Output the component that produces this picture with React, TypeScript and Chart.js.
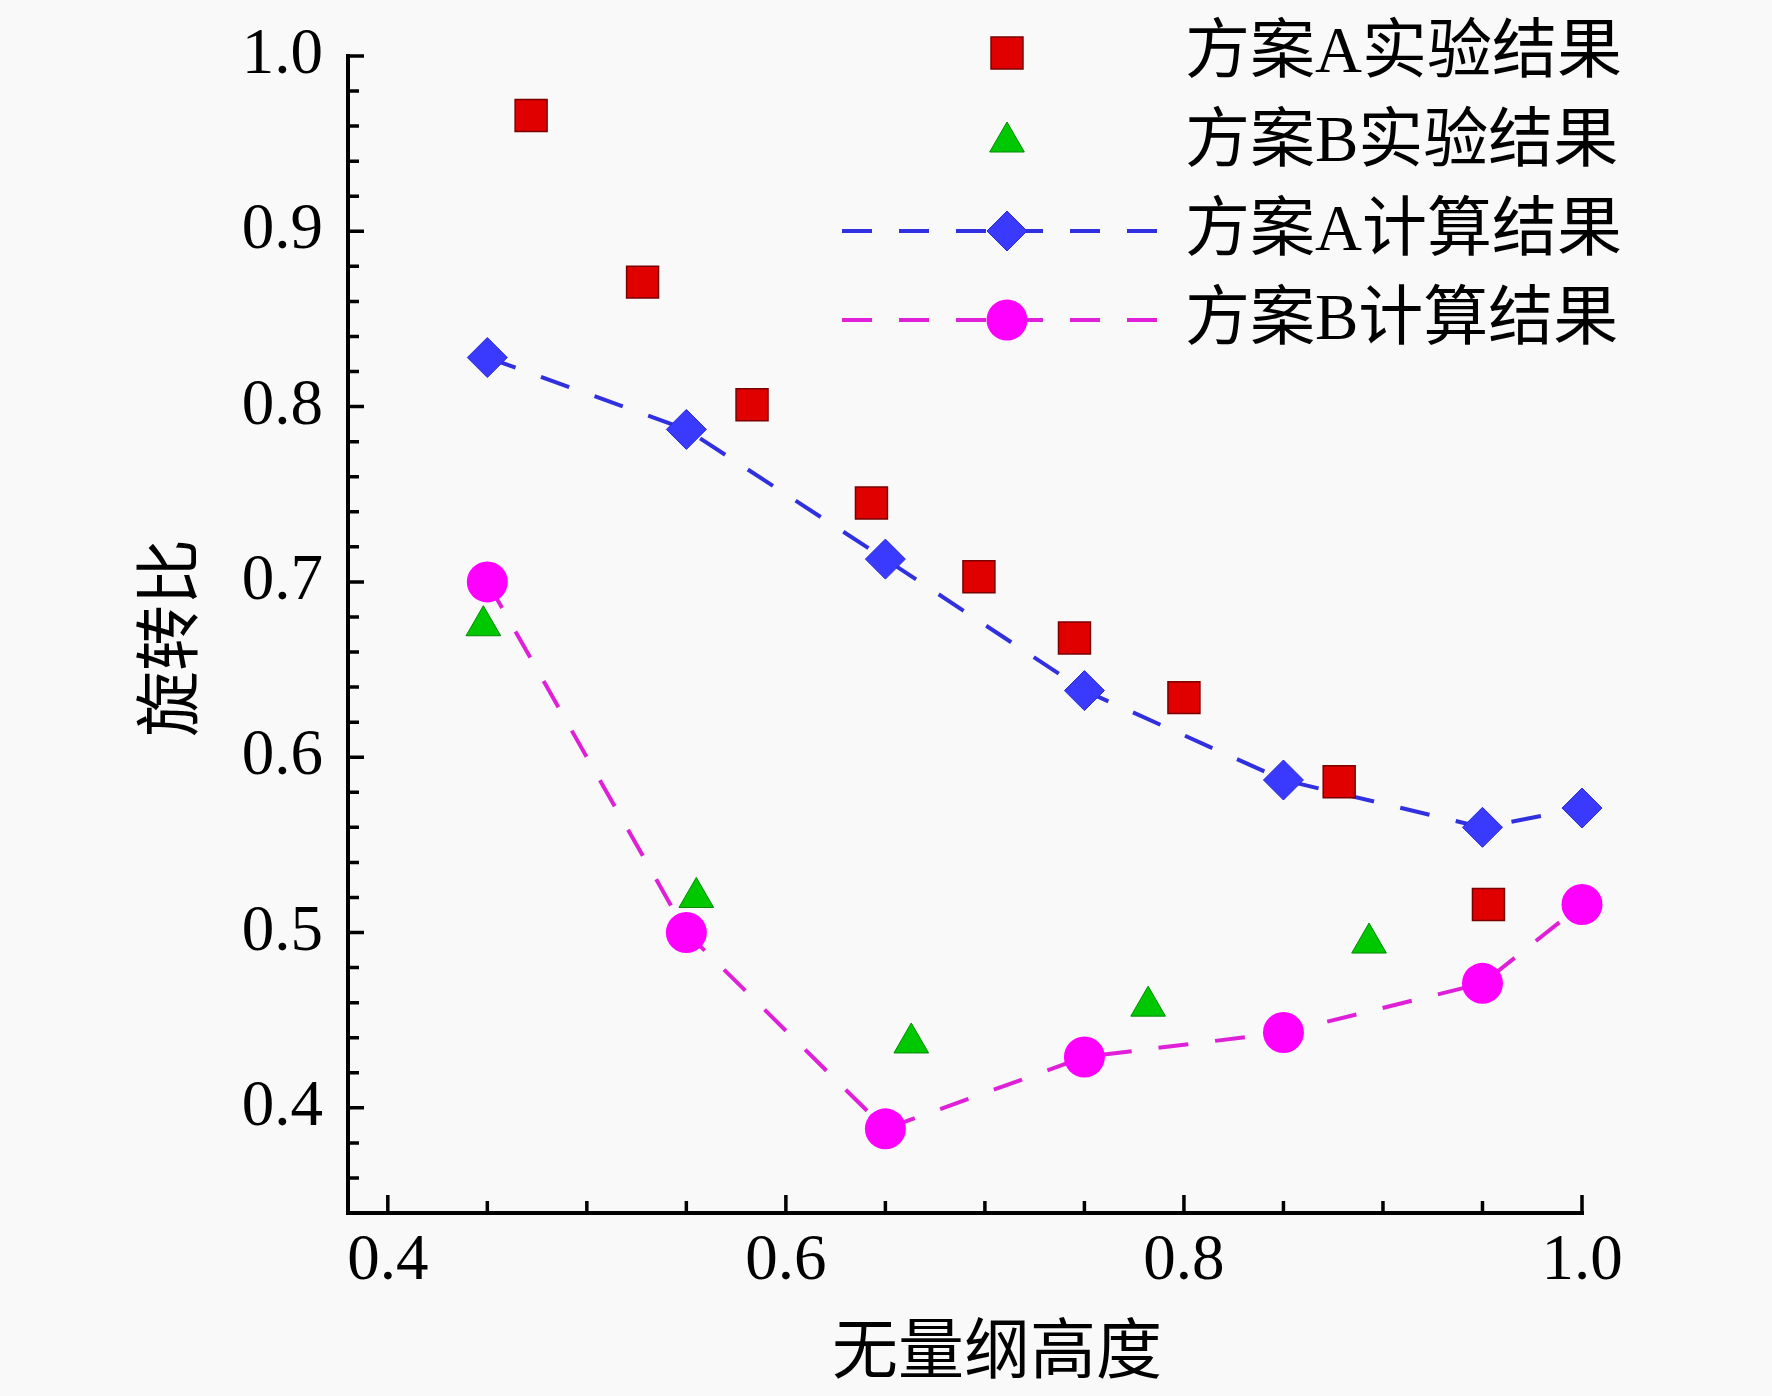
import React, { useEffect, useRef } from 'react';
import Chart from 'chart.js/auto';
import { drawPoint } from 'chart.js/helpers';

const seriesNames = ['方案A实验结果', '方案B实验结果', '方案A计算结果', '方案B计算结果'];

const expAx = [0.472, 0.528, 0.583, 0.643, 0.697, 0.745, 0.8, 0.878, 0.953];
const expAy = [0.966, 0.871, 0.801, 0.745, 0.703, 0.668, 0.634, 0.586, 0.516];
const expBx = [0.448, 0.555, 0.663, 0.782, 0.893];
const expBy = [0.675, 0.52, 0.437, 0.458, 0.494];

// 计算结果
const calcX = [0.45, 0.55, 0.65, 0.75, 0.85, 0.95, 1.0];
const calcAy = [0.828, 0.787, 0.713, 0.638, 0.587, 0.56, 0.571];
const calcBy = [0.7, 0.5, 0.388, 0.429, 0.443, 0.471, 0.516];

const xMajorTicks = [0.4, 0.6, 0.8, 1.0];
const xMinorTicks = [0.45, 0.5, 0.55, 0.65, 0.7, 0.75, 0.85, 0.9, 0.95];
const yMajorTicks = [0.4, 0.5, 0.6, 0.7, 0.8, 0.9, 1.0];
const yMinorTicks = [
  0.36, 0.38, 0.42, 0.44, 0.46, 0.48, 0.52, 0.54, 0.56, 0.58, 0.62, 0.64, 0.66,
  0.68, 0.72, 0.74, 0.76, 0.78, 0.82, 0.84, 0.86, 0.88, 0.92, 0.94, 0.96, 0.98,
];

const xTitle = '无量纲高度';
const yTitle = '旋转比';

const FONT = '"Liberation Serif", "Times New Roman", "Noto Sans CJK SC", serif';

const isMajor = (list: number[], v: number) => list.some((m) => Math.abs(m - v) < 1e-6);

const toPoints = (xs: number[], ys: number[]) => xs.map((x, i) => ({ x, y: ys[i] }));

// chart.js adds room for half of the edge labels; the plot box is pinned by hand instead
const noScalePadding = (scale: any) => {
  scale.paddingTop = 0;
  scale.paddingBottom = 0;
  scale.paddingLeft = 0;
  scale.paddingRight = 0;
};

const axesPlugin = {
  id: 'axesTitlesLegend',
  afterDraw(chart: any) {
    const { ctx, chartArea, scales } = chart;
    const { left, right, top, bottom } = chartArea;
    ctx.save();

    // axis lines
    ctx.strokeStyle = '#000';
    ctx.lineWidth = 4;
    ctx.beginPath();
    ctx.moveTo(left, top - 2);
    ctx.lineTo(left, bottom + 2);
    ctx.moveTo(left - 2, bottom);
    ctx.lineTo(right + 2, bottom);
    ctx.stroke();

    // inward tick marks
    ctx.lineWidth = 3.5;
    ctx.beginPath();
    scales.x.ticks.forEach((t: any) => {
      const px = scales.x.getPixelForValue(t.value);
      const len = isMajor(xMajorTicks, t.value) ? 18 : 12;
      ctx.moveTo(px, bottom);
      ctx.lineTo(px, bottom - len);
    });
    scales.y.ticks.forEach((t: any) => {
      const py = scales.y.getPixelForValue(t.value);
      const len = isMajor(yMajorTicks, t.value) ? 16 : 11;
      ctx.moveTo(left, py);
      ctx.lineTo(left + len, py);
    });
    ctx.stroke();

    // axis titles
    ctx.fillStyle = '#000';
    ctx.font = `66px ${FONT}`;
    ctx.textAlign = 'center';
    ctx.textBaseline = 'middle';
    ctx.fillText(xTitle, 997, 1356);
    ctx.save();
    ctx.translate(175, 638);
    ctx.rotate(-Math.PI / 2);
    ctx.fillText(yTitle, 0, 0);
    ctx.restore();

    // legend
    chart.data.datasets.forEach((ds: any, i: number) => {
      const y = 53 + i * 89;
      if (ds.showLine) {
        ctx.save();
        ctx.strokeStyle = ds.borderColor;
        ctx.lineWidth = ds.borderWidth;
        ctx.setLineDash(ds.borderDash || []);
        ctx.beginPath();
        ctx.moveTo(842, y);
        ctx.lineTo(1166, y);
        ctx.stroke();
        ctx.restore();
      }
      ctx.fillStyle = ds.pointBackgroundColor;
      ctx.strokeStyle = ds.pointBorderColor;
      ctx.lineWidth = ds.pointBorderWidth;
      drawPoint(
        ctx,
        { pointStyle: ds.pointStyle, radius: ds.pointRadius, rotation: 0, borderWidth: ds.pointBorderWidth },
        1007,
        y
      );
      ctx.fillStyle = '#000';
      ctx.textAlign = 'left';
      ctx.textBaseline = 'middle';
      ctx.font = `65px ${FONT}`;
      ctx.fillText(ds.label, 1185, y + 2);
    });

    ctx.restore();
  },
};

export default function App() {
  const canvasRef = useRef<HTMLCanvasElement>(null);
  const chartRef = useRef<Chart | null>(null);

  useEffect(() => {
    document.body.style.margin = '0';
    document.body.style.background = '#f9f9f9';
    if (!canvasRef.current) return;
    if (chartRef.current) chartRef.current.destroy();

    chartRef.current = new Chart(canvasRef.current, {
      type: 'scatter',
      data: {
        datasets: [
          {
            label: seriesNames[0],
            data: toPoints(expAx, expAy),
            showLine: false,
            pointStyle: 'rect',
            pointRadius: 22.6,
            pointHoverRadius: 22.6,
            pointBackgroundColor: '#e00000',
            pointBorderColor: '#7a0000',
            pointBorderWidth: 1.5,
            clip: false,
          },
          {
            label: seriesNames[1],
            data: toPoints(expBx, expBy),
            showLine: false,
            pointStyle: 'triangle',
            pointRadius: 20,
            pointHoverRadius: 20,
            pointBackgroundColor: '#00c800',
            pointBorderColor: '#008a00',
            pointBorderWidth: 1,
            clip: false,
          },
          {
            label: seriesNames[2],
            data: toPoints(calcX, calcAy),
            showLine: true,
            borderColor: '#3030e0',
            borderWidth: 4,
            borderDash: [30, 27],
            pointStyle: 'rectRot',
            pointRadius: 20,
            pointHoverRadius: 20,
            pointBackgroundColor: '#3a3aff',
            pointBorderColor: '#2a2ad0',
            pointBorderWidth: 1,
            clip: false,
          },
          {
            label: seriesNames[3],
            data: toPoints(calcX, calcBy),
            showLine: true,
            borderColor: '#e020d8',
            borderWidth: 4,
            borderDash: [30, 27],
            pointStyle: 'circle',
            pointRadius: 20.5,
            pointHoverRadius: 20.5,
            pointBackgroundColor: '#ff00ff',
            pointBorderColor: '#ff00ff',
            pointBorderWidth: 0,
            clip: false,
          },
        ],
      },
      options: {
        animation: false,
        responsive: false,
        devicePixelRatio: 1,
        layout: { padding: { left: 0, top: 56, right: 190, bottom: 0 } },
        plugins: {
          legend: { display: false },
          tooltip: { enabled: false },
        },
        scales: {
          x: {
            type: 'linear',
            position: 'bottom',
            min: 0.38,
            max: 1.0,
            grid: { display: false, drawTicks: false },
            border: { display: false },
            afterBuildTicks: (scale: any) => {
              scale.ticks = [...xMajorTicks, ...xMinorTicks]
                .sort((a, b) => a - b)
                .map((value) => ({ value }));
            },
            afterFit: (scale: any) => {
              scale.height = 183;
              noScalePadding(scale);
            },
            ticks: {
              color: '#000',
              padding: 10,
              maxRotation: 0,
              autoSkip: false,
              font: { family: FONT, size: 65, lineHeight: 1.2 },
              callback: (value: any) => (isMajor(xMajorTicks, Number(value)) ? Number(value).toFixed(1) : ''),
            },
          },
          y: {
            type: 'linear',
            position: 'left',
            min: 0.34,
            max: 1.0,
            grid: { display: false, drawTicks: false },
            border: { display: false },
            afterBuildTicks: (scale: any) => {
              scale.ticks = [...yMajorTicks, ...yMinorTicks]
                .sort((a, b) => a - b)
                .map((value) => ({ value }));
            },
            afterFit: (scale: any) => {
              scale.width = 348;
              noScalePadding(scale);
            },
            ticks: {
              color: '#000',
              padding: 25,
              autoSkip: false,
              font: { family: FONT, size: 65, lineHeight: 1.2 },
              callback: (value: any) => (isMajor(yMajorTicks, Number(value)) ? Number(value).toFixed(1) : ''),
            },
          },
        },
      },
      plugins: [axesPlugin],
    } as any);

    return () => {
      if (chartRef.current) {
        chartRef.current.destroy();
        chartRef.current = null;
      }
    };
  }, []);

  return (
    <div style={{ width: 1772, height: 1396 }}>
      <canvas ref={canvasRef} width={1772} height={1396} style={{ display: 'block' }} />
    </div>
  );
}
